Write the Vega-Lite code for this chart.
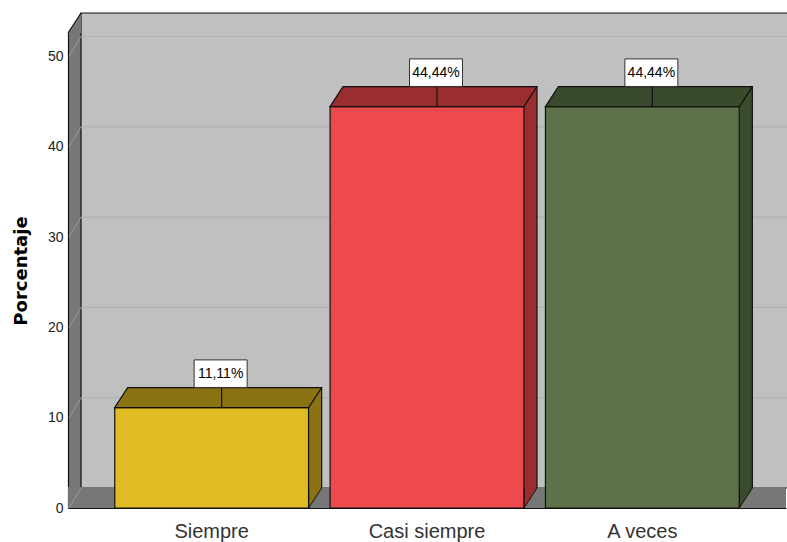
{
  "$schema": "https://vega.github.io/schema/vega-lite/v6.json",
  "width": 718,
  "height": 475,
  "autosize": {"type": "none"},
  "padding": {"left": 68, "top": 33, "right": 1, "bottom": 34},
  "background": "white",
  "config": {
    "font": "Liberation Sans",
    "view": {"fill": "#777777", "stroke": null},
    "axis": {"grid": false, "ticks": false, "domainColor": "#111111", "domainWidth": 1.2}
  },
  "datasets": {
    "bars": [
      {"cat": "Siempre", "pct": 11.11, "label": "11,11%"},
      {"cat": "Casi siempre", "pct": 44.44, "label": "44,44%"},
      {"cat": "A veces", "pct": 44.44, "label": "44,44%"}
    ],
    "grid": [{"v": 10}, {"v": 20}, {"v": 30}, {"v": 40}, {"v": 50}],
    "diag": [{"v": 0}, {"v": 10}, {"v": 20}, {"v": 30}, {"v": 40}, {"v": 50}]
  },
  "resolve": {"scale": {"x": "independent"}, "axis": {"x": "independent"}},
  "layer": [
    {
      "layer": [
        {
          "data": {"values": [{}]},
          "mark": {"type": "rect", "fill": "#c0c0c0", "stroke": "#111111", "strokeWidth": 1.2, "xOffset": 13, "x2Offset": 20, "yOffset": -20, "y2Offset": -20},
          "encoding": {
            "x": {"datum": 0, "type": "quantitative", "scale": {"domain": [0, 1], "nice": false, "zero": false}, "axis": null},
            "x2": {"datum": 1},
            "y": {"datum": 52.6, "type": "quantitative", "scale": {"domain": [0, 52.6], "nice": false, "zero": true},
              "axis": {"values": [0, 10, 20, 30, 40, 50], "labelFontSize": 14, "labelColor": "#222222", "labelPadding": 5, "title": "Porcentaje", "titleFont": "DejaVu Sans", "titleFontSize": 18, "titleFontWeight": "bold", "titleColor": "#000000", "titlePadding": 17}},
            "y2": {"datum": 0}
          }
        },
        {
          "data": {"values": [{}]},
          "mark": {"type": "rect", "fill": "#777777", "y2Offset": -21},
          "encoding": {
            "x": {"datum": 0, "type": "quantitative"},
            "x2": {"datum": 1},
            "y": {"datum": 0, "type": "quantitative"},
            "y2": {"datum": 0}
          }
        },
        {
          "data": {"values": [{}]},
          "mark": {"type": "point", "filled": true, "opacity": 1, "size": 400, "shape": "M0,0 L1.3,-2 L1.3,0 Z", "fill": "#777777", "strokeWidth": 0},
          "encoding": {
            "x": {"datum": 0, "type": "quantitative"},
            "y": {"datum": 52.6, "type": "quantitative"}
          }
        },
        {
          "data": {"values": [{}]},
          "mark": {"type": "rule", "stroke": "#111111", "strokeWidth": 1.2, "x2Offset": 13, "y2Offset": -20},
          "encoding": {
            "x": {"datum": 0, "type": "quantitative"},
            "x2": {"datum": 0},
            "y": {"datum": 52.6, "type": "quantitative"},
            "y2": {"datum": 52.6}
          }
        },
        {
          "data": {"name": "grid"},
          "mark": {"type": "rule", "stroke": "#b0b0b0", "strokeWidth": 1.2, "xOffset": 13, "x2Offset": 20, "yOffset": -20, "y2Offset": -20},
          "encoding": {
            "x": {"datum": 0, "type": "quantitative"},
            "x2": {"datum": 1},
            "y": {"field": "v", "type": "quantitative"},
            "y2": {"field": "v"}
          }
        },
        {
          "data": {"name": "diag"},
          "mark": {"type": "rule", "stroke": "#9c9c9c", "strokeWidth": 1, "xOffset": 1, "x2Offset": 13, "y2Offset": -20},
          "encoding": {
            "x": {"datum": 0, "type": "quantitative"},
            "x2": {"datum": 0},
            "y": {"field": "v", "type": "quantitative"},
            "y2": {"field": "v"}
          }
        }
      ]
    },
    {
      "data": {"name": "bars"},
      "resolve": {"scale": {"fill": "independent"}},
      "layer": [
        {
          "mark": {"type": "bar", "width": 13, "xOffset": 103.5, "yOffset": -20, "y2Offset": -20},
          "encoding": {
            "x": {"field": "cat", "type": "nominal", "sort": null,
              "scale": {"paddingInner": 0.1, "paddingOuter": 0.217},
              "axis": {"orient": "bottom", "zindex": 2, "title": null, "labelFont": "Liberation Sans", "labelFontSize": 20, "labelColor": "#333333", "labelPadding": 13, "labelAngle": 0}},
            "y": {"field": "pct", "type": "quantitative"},
            "y2": {"datum": 0},
            "fill": {"field": "cat", "type": "nominal", "legend": null,
              "scale": {"domain": ["Siempre", "Casi siempre", "A veces"], "range": ["#8b7314", "#992d30", "#3a4a2c"]}}
          }
        },
        {
          "mark": {"type": "point", "filled": true, "size": 40000, "opacity": 1, "shape": "M0.97,-0.2 L0.97,0 L1.1,-0.2", "stroke": "#111111", "strokeWidth": 1},
          "encoding": {
            "x": {"field": "cat", "type": "nominal", "sort": null},
            "y": {"datum": 0, "type": "quantitative"},
            "fill": {"field": "cat", "type": "nominal", "legend": null,
              "scale": {"domain": ["Siempre", "Casi siempre", "A veces"], "range": ["#8b7314", "#992d30", "#3a4a2c"]}}
          }
        },
        {
          "mark": {"type": "bar", "stroke": "#111111", "strokeWidth": 1.2},
          "encoding": {
            "x": {"field": "cat", "type": "nominal", "sort": null},
            "y": {"field": "pct", "type": "quantitative"},
            "y2": {"datum": 0},
            "fill": {"field": "cat", "type": "nominal", "legend": null,
              "scale": {"domain": ["Siempre", "Casi siempre", "A veces"], "range": ["#e0bb21", "#ee4a4e", "#5d7249"]}}
          }
        },
        {
          "mark": {"type": "point", "filled": true, "size": 40000, "opacity": 1, "shape": "M-0.97,0 L0.97,0 L1.1,-0.2 L-0.84,-0.2 Z", "stroke": "#111111", "strokeWidth": 1.2},
          "encoding": {
            "x": {"field": "cat", "type": "nominal", "sort": null},
            "y": {"field": "pct", "type": "quantitative"},
            "fill": {"field": "cat", "type": "nominal", "legend": null,
              "scale": {"domain": ["Siempre", "Casi siempre", "A veces"], "range": ["#8b7314", "#992d30", "#3a4a2c"]}}
          }
        },
        {
          "mark": {"type": "rule", "stroke": "#111111", "strokeWidth": 1.2, "xOffset": 110, "yOffset": -20, "y2Offset": -20},
          "encoding": {
            "x": {"field": "cat", "type": "nominal", "sort": null},
            "y": {"field": "pct", "type": "quantitative"},
            "y2": {"datum": 0}
          }
        },
        {
          "mark": {"type": "rule", "stroke": "#111111", "strokeWidth": 1.2, "xOffset": 10, "y2Offset": -20},
          "encoding": {
            "x": {"field": "cat", "type": "nominal", "sort": null},
            "y": {"field": "pct", "type": "quantitative"},
            "y2": {"field": "pct"}
          }
        },
        {
          "mark": {"type": "point", "filled": true, "size": 2809, "opacity": 1, "shape": "M-1,-0.52 L1,-0.52 L1,0.52 L-1,0.52 Z", "fill": "#ffffff", "stroke": "#333333", "strokeWidth": 1, "xOffset": 9, "yOffset": -34},
          "encoding": {
            "x": {"field": "cat", "type": "nominal", "sort": null},
            "y": {"field": "pct", "type": "quantitative"}
          }
        },
        {
          "mark": {"type": "text", "fontSize": 14, "color": "#000000", "baseline": "middle", "align": "center", "xOffset": 9, "yOffset": -33.5},
          "encoding": {
            "x": {"field": "cat", "type": "nominal", "sort": null},
            "y": {"field": "pct", "type": "quantitative"},
            "text": {"field": "label"}
          }
        }
      ]
    }
  ]
}
